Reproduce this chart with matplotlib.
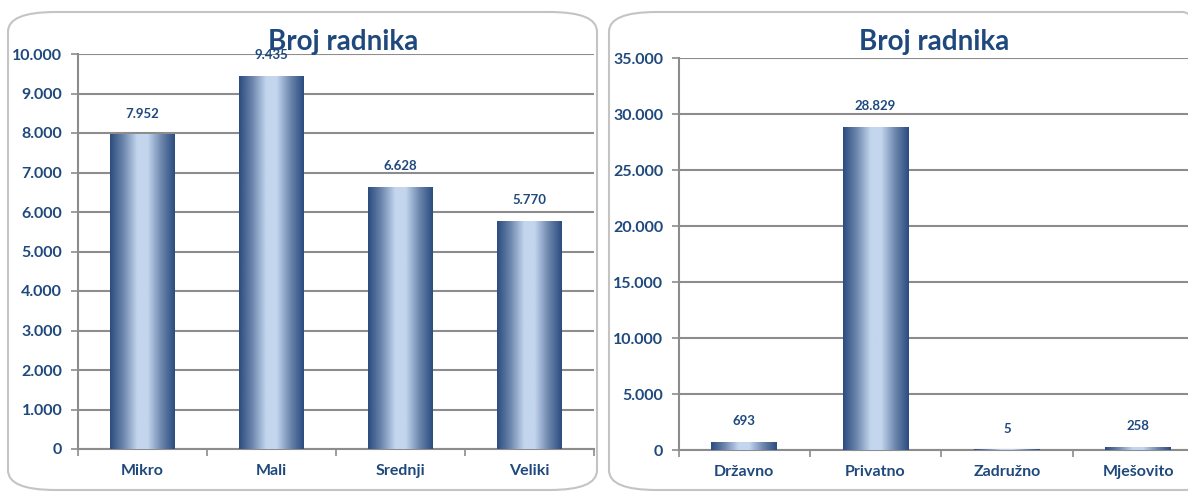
import matplotlib
matplotlib.use('Agg')
import matplotlib.pyplot as plt
import numpy as np
from matplotlib.colors import LinearSegmentedColormap
from matplotlib.patches import FancyBboxPatch
from matplotlib.ticker import FuncFormatter, MultipleLocator

# data
title = "Broj radnika"
size_labels = ["Mikro", "Mali", "Srednji", "Veliki"]
size_values = [7952, 9435, 6628, 5770]
owner_labels = ["Državno", "Privatno", "Zadružno", "Mješovito"]
owner_values = [693, 28829, 5, 258]

W, H = 1188, 492
DARK = '#1f497d'
GRID = '#8c8c8c'

plt.rcParams['font.family'] = ['Lato', 'DejaVu Sans']

bar_cmap = LinearSegmentedColormap.from_list(
    'bar', [(0, '#2b4c80'), (0.2, '#6a84ab'), (0.42, '#c3d6ee'),
            (0.58, '#c3d6ee'), (0.8, '#6a84ab'), (1, '#2b4c80')])


def fx(px):
    return px / W


def fy(py):
    return 1 - py / H


def thousands(v, pos=None):
    return f"{int(v):,}".replace(",", ".")


def draw_panel(fig, box, axbox, labels, values, ymax, step, title_x):
    # rounded panel border
    x0, y0, x1, y1 = box
    panel = FancyBboxPatch((fx(x0), fy(y1)), fx(x1 - x0), (y1 - y0) / H,
                           boxstyle="round,pad=0,rounding_size=0.04",
                           transform=fig.transFigure, facecolor='none',
                           edgecolor='#c4c4c4', linewidth=1.5, zorder=-1)
    fig.patches.append(panel)

    l, t, r, b = axbox
    ax = fig.add_axes([fx(l), fy(b), fx(r - l), (b - t) / H])
    ax.patch.set_alpha(0)

    x = np.arange(len(values))
    bars = ax.bar(x, values, width=0.5, color='none', zorder=3)
    grad = np.linspace(0, 1, 256).reshape(1, -1)
    for rect in bars:
        bx, bw, bh = rect.get_x(), rect.get_width(), rect.get_height()
        ax.imshow(grad, cmap=bar_cmap, aspect='auto', zorder=3,
                  extent=(bx, bx + bw, 0, bh), interpolation='bilinear')

    for xi, v in zip(x, values):
        ax.annotate(thousands(v), (xi, v), xytext=(0, 11),
                    textcoords='offset points', ha='center', va='bottom',
                    fontsize=9.5, fontweight='bold', color=DARK, zorder=5)

    ax.set_xlim(-0.5, len(values) - 0.5)
    ax.set_ylim(0, ymax)
    ax.yaxis.set_major_locator(MultipleLocator(step))
    ax.yaxis.set_major_formatter(FuncFormatter(thousands))
    ax.grid(axis='y', color=GRID, linewidth=1.5, zorder=1)
    ax.set_axisbelow(True)

    ax.set_xticks(np.arange(-0.5, len(values), 1.0))
    ax.set_xticklabels([])
    ax.set_xticks(x, minor=True)
    ax.set_xticklabels(labels, minor=True)
    ax.tick_params(axis='x', which='minor', length=0, pad=11)
    ax.tick_params(axis='x', which='major', length=5, width=1.2, color=GRID)
    ax.tick_params(axis='y', length=5, width=1.2, color=GRID, pad=6)
    for lab in ax.get_xticklabels(minor=True) + ax.get_yticklabels():
        lab.set_fontweight('bold')
        lab.set_fontsize(11.5)
        lab.set_color(DARK)

    for side in ('top', 'right'):
        ax.spines[side].set_visible(False)
    for side in ('left', 'bottom'):
        ax.spines[side].set_color(GRID)
        ax.spines[side].set_linewidth(1.5)

    fig.text(fx(title_x), fy(42), title, ha='center', va='center',
             fontsize=20, fontweight='bold', color=DARK, zorder=6)
    return ax


fig = plt.figure(figsize=(W / 100, H / 100), dpi=100)

draw_panel(fig, (8, 12, 597, 490), (77.5, 54, 594, 449),
           size_labels, size_values, 10000, 1000, 343)
draw_panel(fig, (609, 12, 1230, 490), (678.5, 58, 1204, 450),
           owner_labels, owner_values, 35000, 5000, 934)

fig.savefig('out.png', dpi=100)
